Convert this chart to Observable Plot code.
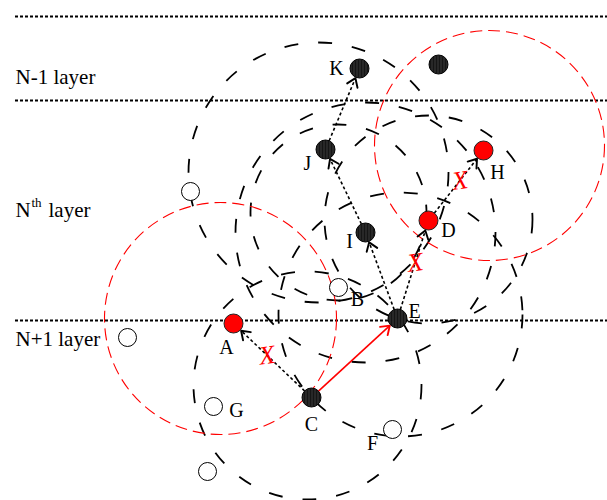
<!DOCTYPE html>
<html><head><meta charset="utf-8">
<script src="https://cdn.jsdelivr.net/npm/d3@7"></script>
<script src="https://cdn.jsdelivr.net/npm/@observablehq/plot@0.6"></script>
<style>body{margin:0;background:#fff}#chart svg{display:block}</style>
</head><body>
<svg width="0" height="0" style="position:absolute">
  <defs>
    <pattern id="stripes" width="3" height="4" patternUnits="userSpaceOnUse">
      <rect width="3" height="4" fill="#151515"></rect>
      <rect x="2" width="1" height="4" fill="#3c3c3c"></rect>
    </pattern>
  </defs>
</svg>
<div id="chart"></div>
<script>
// Layer separators (dotted lines) and layer names
const layerLineY = [16, 100, 320];
const layerText = ["N-1 layer", "N", "th", "layer", "N+1 layer"];
const layerTextX = [15, 15, 31, 48, 15];
const layerTextY = [77, 210, 202, 210, 339];
const layerTextSize = [21, 21, 13, 21, 21];

// Nodes
const nodeName = ["K", "", "J", "H", "I", "D", "B", "E", "A", "C", "G", "F", "", "", ""];
const nodeX = [359, 438, 325, 483, 365, 428, 338, 397, 233, 311, 213, 392, 190, 127, 207];
const nodeY = [68, 64, 149, 150, 232, 220, 287, 318, 323, 397, 406, 429, 191, 337, 471];
const nodeKind = ["relay", "relay", "relay", "fail", "relay", "fail", "idle", "relay", "fail", "relay", "idle", "idle", "idle", "idle", "idle"];
const labelX = [336, 0, 307, 497, 349, 448, 357, 414, 226, 311, 236, 372, 0, 0, 0];
const labelY = [68, 0, 163, 172, 241, 230, 299, 311, 347, 424, 410, 443, 0, 0, 0];

// Transmission ranges (dashed circles)
const rangeX = [318, 307, 400, 428, 365, 338];
const rangeY = [172, 385, 314, 219, 232, 212];
const rangeR = [130, 114, 122, 104, 130, 88];
const redRangeX = [220, 489];
const redRangeY = [318, 145];
const redRangeR = [116, 115];

// Forwarding attempts
const hopFrom = ["J", "I", "E", "E", "D", "C"];
const hopTo   = ["K", "J", "I", "D", "H", "A"];
const hopBlocked = [false, false, false, true, true, true];
const okFrom = ["C"];
const okTo = ["E"];

const nodes = nodeName.map((n, i) => ({name: n, x: nodeX[i], y: nodeY[i], kind: nodeKind[i], lx: labelX[i], ly: labelY[i]}));
const byName = new Map(nodes.filter(d => d.name).map(d => [d.name, d]));
const nodeR = 9.5;
function trim(a, b) {
  const dx = b.x - a.x, dy = b.y - a.y, L = Math.hypot(dx, dy);
  return {x1: a.x + dx / L * nodeR, y1: a.y + dy / L * nodeR, x2: b.x - dx / L * (nodeR + 1), y2: b.y - dy / L * (nodeR + 1),
          mx: a.x + dx * 0.57, my: a.y + dy * 0.57};
}
const hops = hopFrom.map((f, i) => ({...trim(byName.get(f), byName.get(hopTo[i])), blocked: hopBlocked[i]}));
const okHops = okFrom.map((f, i) => trim(byName.get(f), byName.get(okTo[i])));
const ranges = rangeX.map((x, i) => ({x, y: rangeY[i], r: rangeR[i]}));
const redRanges = redRangeX.map((x, i) => ({x, y: redRangeY[i], r: redRangeR[i]}));
const layerLabels = layerText.map((t, i) => ({t, x: layerTextX[i], y: layerTextY[i], s: layerTextSize[i]}));

const serif = "Liberation Serif, Times New Roman, serif";

const chart = Plot.plot({
  width: 607, height: 500,
  margin: 0,
  x: {domain: [0, 607], range: [0, 607], axis: null},
  y: {domain: [0, 500], range: [0, 500], axis: null},
  r: {type: "identity"},
  style: {background: "white", fontFamily: serif},
  marks: [
    Plot.ruleY(layerLineY, {y: d => d, x1: 15, x2: 607, stroke: "black", strokeWidth: 2, strokeDasharray: "3,2"}),
    Plot.dot(ranges, {x: "x", y: "y", r: "r", stroke: "black", fill: "none", strokeWidth: 1.8, strokeDasharray: "14,20"}),
    Plot.dot(redRanges, {x: "x", y: "y", r: "r", stroke: "#ff0000", fill: "none", strokeWidth: 1.1, strokeDasharray: "12,6"}),
    Plot.link(hops, {x1: "x1", y1: "y1", x2: "x2", y2: "y2", stroke: "black", strokeWidth: 1.6, strokeDasharray: "3,2.5", markerEnd: "arrow"}),
    Plot.link(okHops, {x1: "x1", y1: "y1", x2: "x2", y2: "y2", stroke: "#ff0000", strokeWidth: 1.6, markerEnd: "arrow"}),
    Plot.dot(nodes.filter(d => d.kind === "relay"), {x: "x", y: "y", r: nodeR, fill: "url(#stripes)", stroke: "black", strokeWidth: 1}),
    Plot.dot(nodes.filter(d => d.kind === "fail"), {x: "x", y: "y", r: nodeR, fill: "#ff0000", stroke: "#222", strokeWidth: 1}),
    Plot.dot(nodes.filter(d => d.kind === "idle"), {x: "x", y: "y", r: 9, fill: "white", stroke: "black", strokeWidth: 1}),
    Plot.text(hops.filter(d => d.blocked), {x: "mx", y: "my", text: () => "X", fill: "#ff0000", fontSize: 26, fontStyle: "italic", fontFamily: serif, rotate: -8}),
    Plot.text(nodes.filter(d => d.name), {x: "lx", y: "ly", text: "name", fill: "black", fontSize: 20, fontFamily: serif}),
    Plot.text(layerLabels, {x: "x", y: "y", text: "t", fontSize: "s", textAnchor: "start", fill: "black", fontFamily: serif})
  ]
});
document.getElementById("chart").appendChild(chart);
d3.select(chart).selectAll("marker")
  .attr("markerWidth", 12).attr("markerHeight", 12)
  .attr("viewBox", "-6 -6 12 12")
  .selectAll("path")
  .attr("d", "M-5,-3.5L0,0L-5,3.5")
  .attr("stroke-dasharray", "none")
  .attr("stroke-width", 1.2);
</script>
</body></html>
